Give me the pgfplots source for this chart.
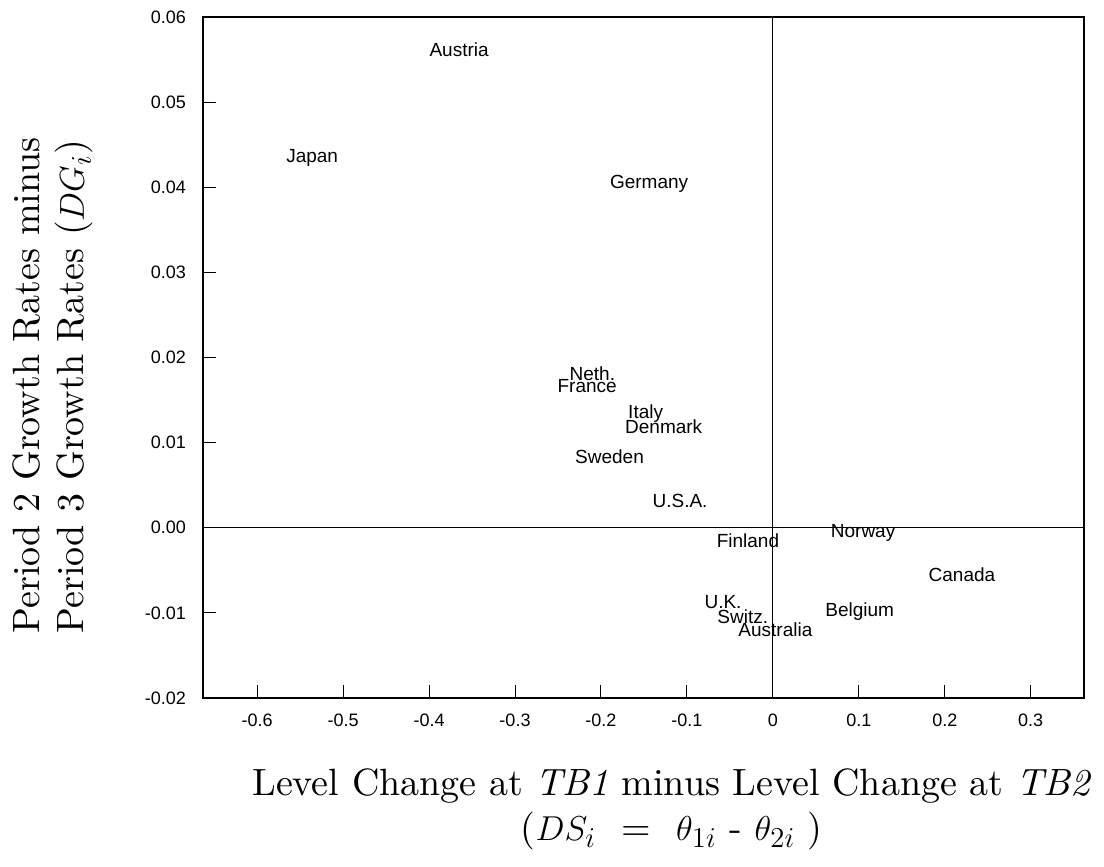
\documentclass[border=0pt]{standalone}
\usepackage{fontspec}
\newfontfamily\arial{Liberation Sans}
\newfontfamily\cmten{lmroman10-regular.otf}[ItalicFont=lmroman10-italic.otf]
\usepackage{pgfplots}
\usepackage{pgfplotstable}
\pgfplotsset{compat=1.18}

\pgfplotstableread{
x      y       label
-0.365 0.0562  Austria
-0.536 0.0435  Japan
-0.144 0.0404  Germany
-0.210 0.0181  Neth.
-0.216 0.0166  France
-0.148 0.0134  Italy
-0.127 0.0119  Denmark
-0.190 0.0084  Sweden
-0.108 0.0031  U.S.A.
-0.029 -0.0015 Finland
0.105  -0.0006 Norway
0.220  -0.0055 Canada
-0.058 -0.0087 U.K.
-0.035 -0.0105 Switz.
0.003  -0.0120 Australia
0.101  -0.0098 Belgium
}\countries

\begin{document}
\begin{tikzpicture}
\begin{axis}[
    scale only axis,
    width=440.5pt,
    height=340.5pt,
    xmin=-0.663, xmax=0.362,
    ymin=-0.02, ymax=0.06,
    xtick={-0.6,-0.5,-0.4,-0.3,-0.2,-0.1,0,0.1,0.2,0.3},
    ytick={-0.02,-0.01,0,0.01,0.02,0.03,0.04,0.05,0.06},
    scaled y ticks=false,
    scaled x ticks=false,
    tick align=inside,
    major tick length=6.5pt,
    xtick pos=bottom,
    ytick pos=left,
    axis line style={line width=0.6pt},
    tick style={line width=0.5pt, black},
    /pgf/number format/assume math mode=true,
    ticklabel style={font=\arial\fontsize{9}{10}\selectfont},
    xticklabel style={yshift=-4.5pt},
    yticklabel style={xshift=-5pt,
        /pgf/number format/fixed,
        /pgf/number format/fixed zerofill,
        /pgf/number format/precision=2},
    xlabel={Level Change at \textit{TB1} minus Level Change at \textit{TB2}\\($DS_i$\ \ =\ \ $\theta_{1i}$\ -\ $\theta_{2i}$\ )},
    xlabel style={align=center, font=\cmten\fontsize{19}{22.5}\selectfont,
        at={(axis description cs:0.532,-0.164)}, anchor=center},
    ylabel={Period 2 Growth Rates minus\\Period 3 Growth Rates ($DG_i$)},
    ylabel style={align=left, font=\cmten\fontsize{19}{22}\selectfont,
        at={(axis description cs:-0.170,0.459)}, anchor=center},
]
\draw[line width=0.5pt] (axis cs:0,-0.02) -- (axis cs:0,0.06);
\draw[line width=0.5pt] (axis cs:-0.663,0) -- (axis cs:0.362,0);
\addplot[draw=none, mark=none,
    point meta=explicit symbolic,
    nodes near coords,
    nodes near coords align=center,
    nodes near coords style={anchor=center, inner sep=0pt,
        font=\arial\fontsize{9.5}{11}\selectfont}]
    table[x=x, y=y, meta=label] {\countries};
\coordinate (bl) at (rel axis cs:0,0);
\coordinate (tr) at (rel axis cs:1,1);
\end{axis}
\pgfresetboundingbox
\path ([shift={(-101.5pt,-84.5pt)}]bl) rectangle ([shift={(10pt,8.5pt)}]tr);
\end{tikzpicture}
\end{document}
